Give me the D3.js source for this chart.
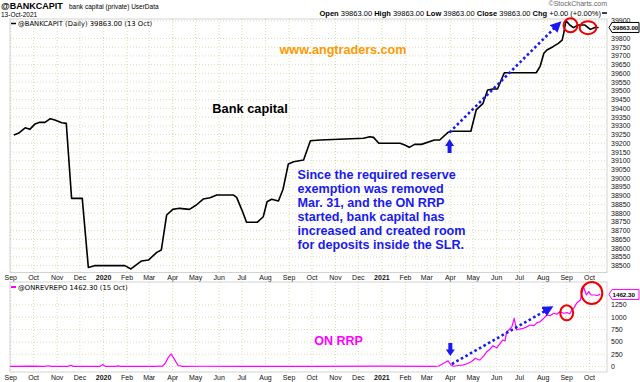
<!DOCTYPE html>
<html>
<head>
<meta charset="utf-8">
<script src="https://cdn.jsdelivr.net/npm/d3@7"></script>
<style>
  body { margin: 0; background: #fff; }
  svg { display: block; font-family: "Liberation Sans", Arial, sans-serif; }
  .grid line { stroke: #dcdcb4; stroke-dasharray: 1,2; }
  .tick-lbl { font-size: 7px; fill: #111; }
</style>
</head>
<body>
<svg id="chart" width="640" height="382"></svg>
<script>
// bank capital, daily
const capDates = ["2019-09-05","2019-09-11","2019-09-20","2019-09-26","2019-10-03","2019-10-09","2019-10-16","2019-10-23","2019-10-29","2019-11-07","2019-11-13","2019-11-20","2019-12-04","2019-12-12","2019-12-20","2020-01-29","2020-02-06","2020-02-20","2020-02-29","2020-03-11","2020-03-17","2020-03-24","2020-04-01","2020-04-10","2020-04-23","2020-05-02","2020-05-11","2020-05-20","2020-05-29","2020-06-20","2020-06-24","2020-07-01","2020-07-07","2020-07-21","2020-07-29","2020-08-03","2020-08-09","2020-08-18","2020-08-24","2020-08-31","2020-09-07","2020-09-20","2020-09-29","2020-10-12","2020-12-08","2020-12-16","2020-12-21","2020-12-28","2021-01-25","2021-01-31","2021-02-06","2021-02-13","2021-02-22","2021-03-11","2021-03-18","2021-03-29","2021-04-04","2021-04-28","2021-05-05","2021-05-14","2021-05-20","2021-05-27","2021-06-02","2021-06-11","2021-06-22","2021-07-23","2021-07-28","2021-08-02","2021-08-06","2021-08-14","2021-08-21","2021-08-26","2021-08-28","2021-08-31","2021-09-05","2021-09-10","2021-09-16","2021-09-25","2021-10-02","2021-10-08","2021-10-13"];
const capValues = [39248,39257,39289,39280,39311,39320,39320,39341,39333,39318,39314,38885,38885,38490,38500,38500,38481,38527,38532,38576,38590,38790,38822,38828,38822,38847,38881,38889,38904,38904,38891,38818,38748,38748,38780,38866,38880,38870,38937,39082,39095,39105,39215,39219,39229,39238,39234,39200,39200,39190,39177,39194,39194,39219,39219,39263,39269,39269,39391,39429,39505,39511,39511,39604,39604,39604,39640,39715,39734,39753,39772,39790,39828,39902,39877,39862,39877,39877,39852,39863,39863];

// ON RRP, $bn
const rrpDates = ["2019-08-31","2019-09-30","2019-10-15","2019-10-21","2019-10-24","2019-11-15","2019-11-19","2019-11-22","2019-12-27","2019-12-31","2020-01-03","2020-01-17","2020-01-20","2020-01-23","2020-03-10","2020-03-14","2020-03-18","2020-03-22","2020-03-26","2020-03-30","2020-04-03","2020-04-08","2020-04-14","2020-05-10","2020-06-30","2020-09-30","2020-12-31","2021-03-10","2021-03-17","2021-03-25","2021-03-29","2021-04-02","2021-04-05","2021-04-12","2021-04-18","2021-04-24","2021-04-29","2021-05-04","2021-05-07","2021-05-10","2021-05-15","2021-05-19","2021-05-23","2021-05-27","2021-06-01","2021-06-06","2021-06-09","2021-06-12","2021-06-14","2021-06-17","2021-06-21","2021-06-24","2021-06-27","2021-07-01","2021-07-06","2021-07-10","2021-07-15","2021-07-20","2021-07-24","2021-07-28","2021-08-02","2021-08-06","2021-08-10","2021-08-15","2021-08-19","2021-08-23","2021-08-28","2021-09-02","2021-09-05","2021-09-08","2021-09-11","2021-09-14","2021-09-19","2021-09-23","2021-09-27","2021-09-30","2021-10-03","2021-10-08","2021-10-11","2021-10-15"];
const rrpValues = [2,8,2,15,2,2,25,2,2,40,2,2,12,2,2,10,2,60,180,254,150,20,3,5,3,4,6,3,10,80,114,30,5,20,33,60,100,167,140,134,214,300,350,420,380,481,538,520,706,741,808,978,741,760,775,800,842,830,889,909,980,1045,1030,1080,1060,1112,1080,1092,1070,1146,1200,1282,1350,1619,1451,1518,1451,1451,1440,1462.3];

const capTicks = d3.range(38500, 39901, 50);
const rrpTicks = [0, 250, 500, 750, 1000, 1250];
const monthTicks = d3.timeMonth.range(new Date(2019, 8, 1), new Date(2021, 9, 2));

const blurb = ["Since the required reserve", "exemption was removed", "Mar. 31, and the ON RRP",
  "started, bank capital has", "increased and created room", "for deposits inside the SLR."];

const parse = d3.timeParse("%Y-%m-%d");
const cap = capDates.map((d, i) => ({date: parse(d), v: capValues[i]}));
const rrp = rrpDates.map((d, i) => ({date: parse(d), v: rrpValues[i]}));

const svg = d3.select("#chart");
const left = 10, right = 607;
const top1 = 19, bot1 = 272.5, top2 = 282, bot2 = 372;

const x = d3.scaleTime().domain([parse("2019-08-31"), parse("2021-10-24")]).range([left, right]);
const y1 = d3.scaleLinear().domain([38460.8, 39911.4]).range([bot1, top1]);
const y2 = d3.scaleLinear().domain([-111.6, 1714.7]).range([bot2, top2]);

// arrow marker
const defs = svg.append("defs");
defs.append("marker").attr("id", "head").attr("viewBox", "0 0 10 10")
  .attr("refX", 8).attr("refY", 5).attr("markerWidth", 4.2).attr("markerHeight", 4.2)
  .attr("markerUnits", "strokeWidth").attr("orient", "auto")
  .append("path").attr("d", "M0,0L10,5L0,10z").attr("fill", "#1a1aee");

function panel(yScale, top, bot, ticks) {
  const g = svg.append("g").attr("class", "grid");
  g.selectAll(".v").data(monthTicks).join("line")
    .attr("x1", d => x(d)).attr("x2", d => x(d)).attr("y1", top).attr("y2", bot);
  g.selectAll(".h").data(ticks).join("line")
    .attr("x1", left).attr("x2", right).attr("y1", d => yScale(d)).attr("y2", d => yScale(d));
  svg.append("rect").attr("x", left).attr("y", top).attr("width", right - left).attr("height", bot - top)
    .attr("fill", "none").attr("stroke", "#c8c8c8").attr("stroke-width", 0.8);
  // right axis labels
  svg.append("g").selectAll("text").data(ticks).join("text")
    .attr("class", "tick-lbl").attr("x", right + 4).attr("y", d => yScale(d)).attr("dy", "0.35em")
    .text(d => d);
  // month labels
  svg.append("g").selectAll("text").data(monthTicks).join("text")
    .attr("class", "tick-lbl").attr("x", d => x(d)).attr("y", bot + 7.5)
    .attr("text-anchor", "middle")
    .attr("font-weight", d => d.getMonth() === 0 ? "bold" : null)
    .text(d => d.getMonth() === 0 ? d3.timeFormat("%Y")(d) : d3.timeFormat("%b")(d));
}

panel(y1, top1, bot1, capTicks.filter(d => d !== 39850));
panel(y2, top2, bot2, rrpTicks);

// lines
svg.append("path").datum(cap)
  .attr("d", d3.line().x(d => x(d.date)).y(d => y1(d.v)))
  .attr("fill", "none").attr("stroke", "#000").attr("stroke-width", 1.6).attr("stroke-linejoin", "round");
svg.append("path").datum(rrp)
  .attr("d", d3.line().x(d => x(d.date)).y(d => y2(d.v)))
  .attr("fill", "none").attr("stroke", "#ff00ff").attr("stroke-width", 1.2).attr("stroke-linejoin", "round");

// value tags
function tag(yv, label, color) {
  const g = svg.append("g").attr("transform", `translate(${right + 2},${yv})`);
  g.append("path").attr("d", "M0,0L3,-5H30V5H3Z").attr("fill", "#fff").attr("stroke", color).attr("stroke-width", 1);
  g.append("text").attr("x", 3.5).attr("dy", "0.35em").attr("font-size", 6.2).attr("font-weight", "bold").text(label);
}
tag(y1(39863), "39863.00", "#000");
tag(y2(1462.3), "1462.30", "#ff00ff");

// header texts
svg.append("text").attr("x", 1).attr("y", 9).attr("font-size", 9).attr("font-weight", "bold").text("@BANKCAPIT");
svg.append("text").attr("x", 69).attr("y", 8.5).attr("font-size", 6.5).text("bank capital (private) UserData");
svg.append("text").attr("x", 1).attr("y", 17).attr("font-size", 6.5).text("13-Oct-2021");
svg.append("text").attr("x", 607).attr("y", 6).attr("font-size", 7).attr("fill", "#666")
  .attr("text-anchor", "end").text("©StockCharts.com");
const ohlc = svg.append("text").attr("x", 601).attr("y", 15.5).attr("font-size", 7.5).attr("text-anchor", "end");
[["Open", " 39863.00 "], ["High", " 39863.00 "], ["Low", " 39863.00 "], ["Close", " 39863.00 "], ["Chg", " +0.00 (+0.00%)"]]
  .forEach(([k, v]) => {
    ohlc.append("tspan").attr("font-weight", "bold").text(k);
    ohlc.append("tspan").text(v + " ");
  });
svg.append("line").attr("x1", 602).attr("x2", 607).attr("y1", 13).attr("y2", 13).attr("stroke", "#000").attr("stroke-width", 1.5);

// legends
svg.append("line").attr("x1", 11).attr("x2", 16).attr("y1", 23.5).attr("y2", 23.5).attr("stroke", "#000").attr("stroke-width", 1.5);
svg.append("text").attr("x", 18).attr("y", 26).attr("font-family", "DejaVu Sans").attr("font-size", 6.8)
  .text("@BANKCAPIT (Daily) 39863.00 (13 Oct)");
svg.append("line").attr("x1", 11).attr("x2", 16).attr("y1", 287).attr("y2", 287).attr("stroke", "#ff00ff").attr("stroke-width", 2);
svg.append("text").attr("x", 18).attr("y", 289.5).attr("font-family", "DejaVu Sans").attr("font-size", 6.8)
  .text("@ONREVREPO 1462.30 (15 Oct)");

// annotations
svg.append("text").attr("x", 343).attr("y", 53.5).attr("text-anchor", "middle")
  .attr("font-size", 12.6).attr("font-weight", "bold").attr("fill", "#ff9900").text("www.angtraders.com");
svg.append("text").attr("x", 250).attr("y", 113).attr("text-anchor", "middle")
  .attr("font-size", 12.8).attr("font-weight", "bold").attr("fill", "#000").text("Bank capital");
svg.append("text").attr("x", 338.5).attr("y", 344.5).attr("text-anchor", "middle")
  .attr("font-size", 12.5).attr("font-weight", "bold").attr("fill", "#ff00ff").text("ON RRP");
svg.append("g").selectAll("text").data(blurb).join("text")
  .attr("x", 297.5).attr("y", (d, i) => 178.5 + i * 14.1)
  .attr("font-size", 12.6).attr("font-weight", "bold").attr("fill", "#1a1aee").text(d => d);

// dotted trend arrows
function trend(scale, d0, v0, d1, v1) {
  svg.append("line")
    .attr("x1", x(parse(d0))).attr("y1", scale(v0)).attr("x2", x(parse(d1))).attr("y2", scale(v1))
    .attr("stroke", "#1a1aee").attr("stroke-width", 2.6).attr("stroke-dasharray", "2.6,2.6")
    .attr("marker-end", "url(#head)");
}
trend(y1, "2021-03-31", 39263, "2021-08-23", 39890);
trend(y2, "2021-04-03", 50, "2021-08-12", 1201);

// block arrows (up in top panel, down in lower)
function block(scale, d, tipV, baseV) {
  const cx = x(parse(d)), t = scale(tipV), b = scale(baseV), m = t + (b - t) * 0.5;
  svg.append("path")
    .attr("d", `M${cx},${t}L${cx + 4.5},${m}H${cx + 2}V${b}H${cx - 2}V${m}H${cx - 4.5}Z`)
    .attr("fill", "#1a1aee");
}
block(y1, "2021-03-31", 39225, 39145);
block(y2, "2021-04-01", 213, 477);

// red circles
function ring(scale, d, v, rx, ry) {
  svg.append("ellipse").attr("cx", x(parse(d))).attr("cy", scale(v)).attr("rx", rx).attr("ry", ry)
    .attr("fill", "none").attr("stroke", "#ee0000").attr("stroke-width", 2);
}
ring(y1, "2021-09-06", 39875, 7, 7);
ring(y1, "2021-09-29", 39862, 8.3, 6.5);
ring(y2, "2021-09-01", 1090, 6.5, 7.5);
ring(y2, "2021-10-04", 1490, 10.5, 11);
</script>
</body>
</html>
